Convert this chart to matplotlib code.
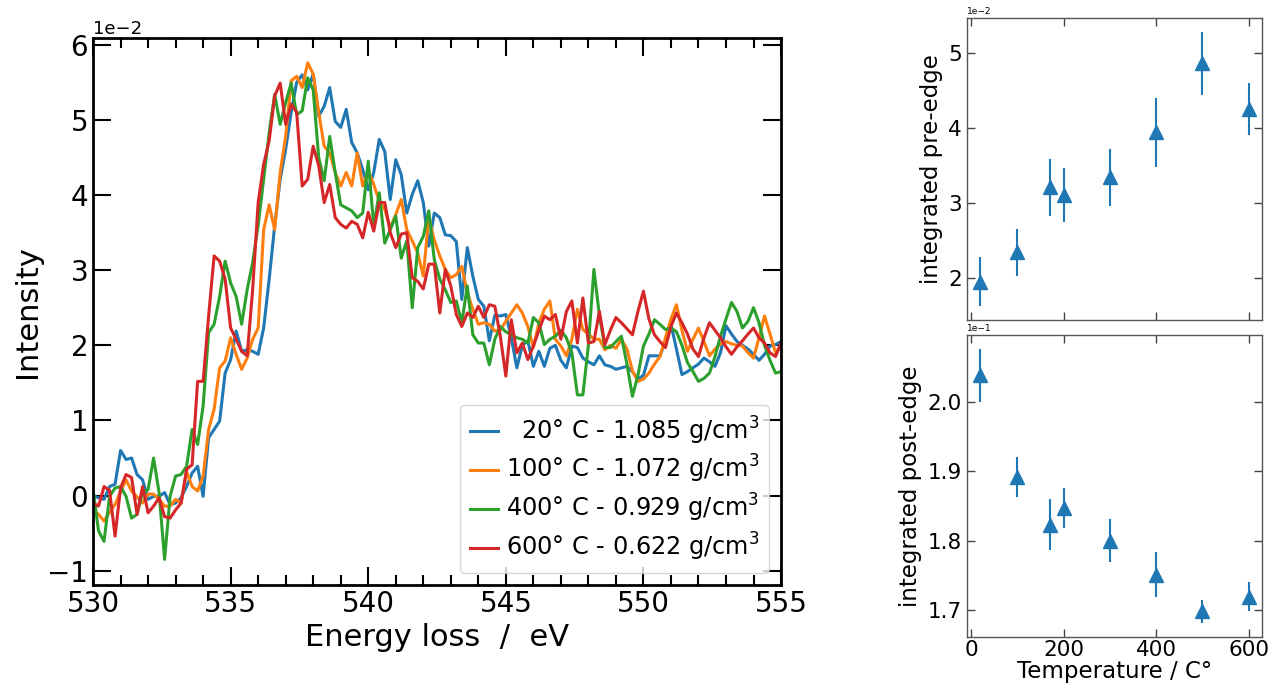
import numpy as np
import matplotlib
matplotlib.use("Agg")
import matplotlib.pyplot as plt
from matplotlib.ticker import MultipleLocator

# ---- EELS spectra (intensity in units of 1e-2), energy grid 530-555 eV, 0.2 eV step
energy = np.round(np.arange(530.0, 555.0001, 0.2), 1)

i_20 = [
    0.00, -0.03, -0.05, 0.12, 0.15, 0.60, 0.48, 0.50, 0.28, 0.21,
    -0.05, -0.01, -0.01, 0.04, -0.12, -0.10, -0.03, 0.12, 0.30, 0.39,
    -0.01, 0.77, 0.88, 0.99, 1.63, 1.81, 2.19, 1.92, 1.94, 1.92,
    1.88, 2.23, 2.88, 3.59, 4.21, 4.61, 5.10, 5.50, 5.60, 5.40,
    5.61, 5.05, 5.18, 5.43, 4.98, 4.90, 5.14, 4.70, 4.56, 4.34,
    4.07, 4.30, 4.74, 4.58, 3.94, 4.47, 4.27, 3.76, 4.01, 4.19,
    3.90, 3.32, 3.76, 3.70, 3.47, 3.46, 3.38, 2.61, 3.30, 2.92,
    2.61, 2.52, 2.06, 2.40, 2.39, 2.41, 2.10, 1.70, 2.00, 2.06,
    1.72, 1.92, 1.72, 1.96, 2.00, 1.80, 1.70, 1.99, 1.97, 1.83,
    1.78, 1.74, 1.86, 1.74, 1.72, 1.68, 1.70, 1.72, 1.65, 1.55,
    1.60, 1.86, 1.86, 1.86, 2.05, 2.28, 1.95, 1.61, 1.65, 1.70,
    1.75, 1.83, 1.78, 1.72, 1.90, 2.26, 2.15, 2.05, 2.00, 1.95,
    1.88, 1.80, 1.88, 1.99, 2.01, 2.05,
]
i_100 = [
    -0.20, -0.25, -0.34, -0.22, -0.12, 0.05, 0.21, 0.06, -0.02, -0.10,
    0.02, 0.02, -0.05, -0.14, -0.14, -0.05, -0.10, 0.32, 0.12, 0.06,
    0.26, 0.88, 1.15, 1.70, 1.79, 2.10, 1.88, 1.68, 1.83, 2.08,
    2.23, 3.54, 3.87, 3.54, 4.30, 4.78, 5.52, 5.58, 5.43, 5.76,
    5.61, 5.10, 4.65, 4.56, 4.30, 4.12, 4.30, 4.12, 4.56, 4.12,
    4.32, 4.14, 3.92, 3.81, 3.56, 3.74, 3.94, 3.54, 3.39, 3.23,
    2.92, 3.70, 3.40, 3.19, 3.01, 2.90, 2.94, 3.05, 2.70, 2.48,
    2.28, 2.30, 2.28, 2.19, 2.20, 2.32, 2.43, 2.54, 2.43, 2.25,
    1.97, 2.30, 2.48, 2.59, 2.08, 1.99, 1.86, 2.08, 2.48, 2.21,
    2.15, 2.08, 2.08, 1.94, 2.00, 1.96, 2.08, 1.95, 1.66, 1.52,
    1.55, 1.63, 1.75, 1.85, 2.10, 2.35, 2.54, 2.20, 1.92, 2.08,
    2.23, 2.05, 1.86, 1.95, 2.02, 2.05, 2.02, 2.00, 1.99, 1.90,
    1.83, 2.10, 2.39, 2.15, 1.90, 2.00,
]
i_400 = [
    0.08, -0.47, -0.61, -0.01, 0.10, 0.12, -0.01, -0.30, -0.25, 0.04,
    0.08, 0.50, 0.04, -0.85, -0.01, 0.26, 0.28, 0.39, 0.88, 0.68,
    1.19, 2.17, 2.28, 2.65, 3.12, 2.83, 2.65, 2.28, 2.74, 3.10,
    3.60, 4.21, 4.83, 5.34, 4.94, 5.23, 5.49, 5.07, 5.12, 5.56,
    5.40, 4.50, 4.19, 4.78, 4.30, 3.87, 3.83, 3.79, 3.70, 3.76,
    4.45, 3.59, 4.03, 3.36, 3.54, 3.72, 3.16, 3.39, 2.50, 3.30,
    3.45, 3.79, 3.14, 2.88, 2.74, 2.57, 2.59, 2.30, 2.79, 2.14,
    2.03, 2.03, 1.74, 2.08, 2.25, 2.18, 2.14, 2.10, 2.08, 2.03,
    2.37, 2.30, 2.01, 2.08, 2.12, 2.20, 2.10, 1.90, 1.34, 1.34,
    2.00, 3.01, 2.40, 1.97, 1.97, 2.05, 2.12, 1.75, 1.32, 1.60,
    1.99, 2.15, 2.34, 2.28, 2.21, 2.23, 2.18, 2.00, 1.77, 1.65,
    1.52, 1.56, 1.63, 1.85, 2.12, 2.35, 2.57, 2.45, 2.23, 2.32,
    2.50, 2.30, 2.00, 1.80, 1.63, 1.65,
]
i_600 = [
    -0.10, -0.14, 0.12, 0.07, -0.54, 0.10, 0.28, 0.24, -0.25, 0.12,
    -0.23, -0.14, -0.03, -0.28, -0.30, -0.19, -0.10, 0.35, 0.41, 1.52,
    1.52, 2.39, 3.19, 3.12, 2.88, 2.23, 2.08, 1.92, 1.86, 2.74,
    3.90, 4.41, 4.72, 5.32, 5.49, 4.94, 5.21, 5.10, 4.12, 4.21,
    4.65, 4.39, 3.90, 4.14, 3.70, 3.61, 3.56, 3.65, 3.61, 3.43,
    3.77, 3.52, 3.90, 3.90, 3.50, 3.30, 3.48, 3.50, 2.90, 2.85,
    2.75, 3.08, 3.08, 2.43, 3.01, 2.79, 2.41, 2.25, 2.43, 2.37,
    2.52, 2.37, 2.54, 2.52, 2.12, 1.59, 2.34, 1.90, 2.03, 1.81,
    1.99, 2.20, 2.39, 2.34, 2.41, 2.08, 2.45, 2.59, 2.03, 2.63,
    2.03, 2.05, 2.45, 2.01, 2.20, 2.37, 2.30, 2.22, 2.14, 2.45,
    2.72, 2.35, 2.14, 2.05, 1.97, 2.25, 2.43, 2.30, 2.15, 1.95,
    1.85, 2.10, 2.30, 2.20, 2.10, 1.98, 1.88, 1.98, 2.06, 2.15,
    2.23, 2.10, 2.03, 1.90, 1.85, 2.03,
]
spectra = [i_20, i_100, i_400, i_600]
labels = [r"  20° C - 1.085 g/cm$^3$", r"100° C - 1.072 g/cm$^3$",
          r"400° C - 0.929 g/cm$^3$", r"600° C - 0.622 g/cm$^3$"]

# ---- integrated areas vs temperature
temperature = [20, 100, 170, 200, 300, 400, 500, 600]
pre_edge = [1.95, 2.34, 3.21, 3.10, 3.34, 3.94, 4.86, 4.25]        # x1e-2
pre_edge_err = [0.33, 0.31, 0.38, 0.36, 0.38, 0.46, 0.42, 0.35]
post_edge = [2.038, 1.891, 1.823, 1.847, 1.800, 1.751, 1.698, 1.719]  # x1e-1
post_edge_err = [0.038, 0.029, 0.037, 0.029, 0.031, 0.032, 0.017, 0.021]

fig = plt.figure(figsize=(12.71, 6.87), dpi=100)

# left: spectra
ax = fig.add_axes([0.0732, 0.1485, 0.5413, 0.7962])
for vals, lab in zip(spectra, labels):
    ax.plot(energy, np.array(vals) * 1e-2, lw=2.2, label=lab)
ax.set_xlim(530, 555)
ax.set_ylim(-1.19e-2, 6.09e-2)
ax.xaxis.set_major_locator(MultipleLocator(5))
ax.xaxis.set_minor_locator(MultipleLocator(1))
ax.ticklabel_format(axis="y", style="sci", scilimits=(0, 0))
ax.yaxis.get_offset_text().set_fontsize(13)
ax.tick_params(which="both", direction="in", top=True, right=True, width=1.5)
ax.tick_params(which="major", length=13, labelsize=20)
ax.tick_params(which="minor", length=7)
for s in ax.spines.values():
    s.set_linewidth(2)
ax.set_xlabel("Energy loss  /  eV", fontsize=22)
ax.set_ylabel("Intensity", fontsize=22)
ax.legend(loc="lower right", fontsize=17.3, handlelength=1.2, handletextpad=0.3,
          labelspacing=0.28)

# right: integrated pre-/post-edge
ax1 = fig.add_axes([0.7608, 0.5342, 0.2321, 0.4396])
ax2 = fig.add_axes([0.7608, 0.0728, 0.2321, 0.4396], sharex=ax1)
ax1.errorbar(temperature, np.array(pre_edge) * 1e-2, yerr=np.array(pre_edge_err) * 1e-2,
             fmt="^", ms=10, elinewidth=1.5, color="tab:blue")
ax2.errorbar(temperature, np.array(post_edge) * 1e-1, yerr=np.array(post_edge_err) * 1e-1,
             fmt="^", ms=10, elinewidth=1.5, color="tab:blue")
ax1.set_ylabel("integrated pre-edge", fontsize=16.5)
ax2.set_ylabel("integrated post-edge", fontsize=16.5)
ax2.set_xlabel("Temperature / C°", fontsize=16.5, labelpad=0)
ax2.xaxis.set_major_locator(MultipleLocator(200))
for a in (ax1, ax2):
    a.ticklabel_format(axis="y", style="sci", scilimits=(0, 0))
    a.yaxis.get_offset_text().set_fontsize(6.5)
    a.tick_params(direction="in", top=True, right=True, length=6, width=1,
                  color="#444444", labelsize=15.5)
    for s in a.spines.values():
        s.set_color("#555555")
        s.set_linewidth(1)
ax1.tick_params(labelbottom=False)
ax2.tick_params(axis="x", pad=2)
ax2.yaxis.set_major_locator(MultipleLocator(0.01))

fig.savefig("out.png", dpi=100)
